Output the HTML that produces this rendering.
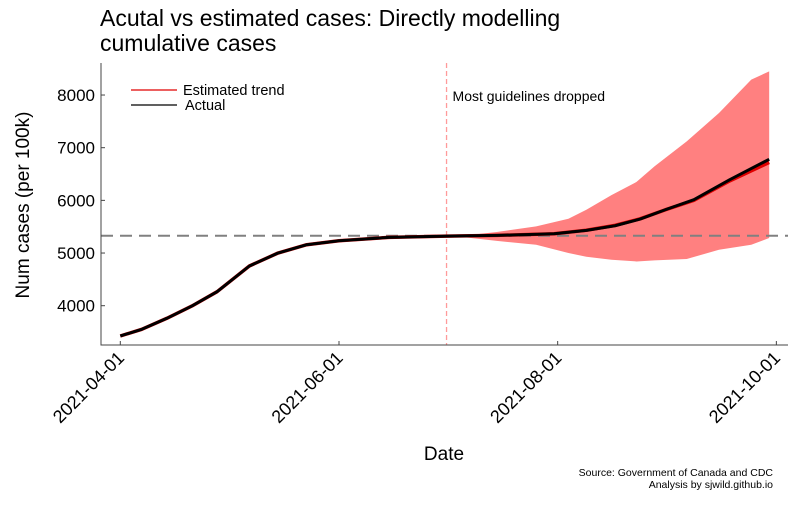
<!DOCTYPE html>
<html><head><meta charset="utf-8"><style>
body{margin:0;background:#fff}
text{font-family:"Liberation Sans","DejaVu Sans",sans-serif}
</style></head><body>
<svg id="chart" width="800" height="500" viewBox="0 0 800 500">
<text x="100" y="26" font-size="23" fill="#000"><tspan x="100">Acutal vs estimated cases: Directly modelling</tspan><tspan x="100" dy="25">cumulative cases</tspan></text>
<g id="plot"></g>
<text transform="translate(29,205) rotate(-90)" text-anchor="middle" font-size="19">Num cases (per 100k)</text>
<text x="444" y="460" text-anchor="middle" font-size="19">Date</text>
<text x="773" y="476" text-anchor="end" font-size="10.5">Source: Government of Canada and CDC</text>
<text x="773" y="488" text-anchor="end" font-size="10.5">Analysis by sjwild.github.io</text>
</svg>
<script>
const actualDays=[0,6,13,20,27,36,44,52,61,75,91,105,121,130,138,145,152,160,170,181];
const actualVals=[3425,3552,3761,3995,4266,4754,5000,5158,5234,5297,5320,5335,5366,5430,5518,5645,5822,6012,6392,6780];
const estVals=[3425,3552,3761,3995,4266,4754,5000,5158,5234,5297,5320,5335,5366,5432,5525,5650,5820,6000,6370,6720];
const bandDays=[96,105,116,125,130,137,144,149,158,167,176,181];
const bandUpper=[5330,5400,5506,5650,5822,6100,6350,6646,7120,7658,8292,8450];
const bandLower=[5300,5230,5158,5000,4930,4873,4840,4860,4886,5063,5158,5285];
const yTicks=[4000,5000,6000,7000,8000];
const xTickDays=[0,61,122,183];
const xTickLabels=["2021-04-01","2021-06-01","2021-08-01","2021-10-01"];
const refLevel=5328;
const eventDay=91;
const eventLabel="Most guidelines dropped";

const NS="http://www.w3.org/2000/svg";
const X0=101,X1=788,Y0=63,Y1=345;
const xs=d=>120.3+d*3.585;
const ys=v=>305.7-(v-4000)*0.05267;
const g=document.getElementById('plot');
function mk(t,a){const e=document.createElementNS(NS,t);for(const k in a)e.setAttribute(k,a[k]);g.appendChild(e);return e;}

let d="M"+bandDays.map((x,i)=>xs(x)+","+ys(bandUpper[i])).join("L");
for(let i=bandDays.length-1;i>=0;i--)d+="L"+xs(bandDays[i])+","+ys(bandLower[i]);
const band=mk('path',{d:d+"Z",fill:"#ff8080"});



const hl=mk('line',{x1:X0,x2:X1,y1:ys(refLevel),y2:ys(refLevel),stroke:"#808080","stroke-width":2,"stroke-dasharray":"12 7"});


const vl=mk('line',{x1:xs(eventDay),x2:xs(eventDay),y1:Y0,y2:Y1,stroke:"#ff9a9a","stroke-width":1.3,"stroke-dasharray":"5 3"});


const et=mk('text',{x:xs(eventDay)+6,y:101,"font-size":14});
et.textContent=eventLabel;



const est=mk('polyline',{points:actualDays.map((x,i)=>xs(x)+","+ys(estVals[i])).join(" "),fill:"none",stroke:"#e00000","stroke-width":3.5,"stroke-linejoin":"round"});


const act=mk('polyline',{points:actualDays.map((x,i)=>xs(x)+","+ys(actualVals[i])).join(" "),fill:"none",stroke:"#000","stroke-width":3,"stroke-linejoin":"round"});



const ax=mk('path',{d:`M${X0},${Y0}V${Y1}H${X1}`,fill:"none",stroke:"#444","stroke-width":1});


yTicks.forEach(v=>{
  const t=mk('line',{x1:X0,x2:X0+4,y1:ys(v),y2:ys(v),stroke:"#444"});
  
  
  const l=mk('text',{x:X0-6,y:ys(v)+6,"text-anchor":"end","font-size":17});
  l.textContent=v;
  
  
});
xTickDays.forEach((dd,i)=>{
  const x=xs(dd);
  const t=mk('line',{x1:x,x2:x,y1:Y1,y2:Y1-4,stroke:"#444"});
  
  
  const l=mk('text',{x:x+5,y:Y1+14,"text-anchor":"end","font-size":18,transform:`rotate(-45 ${x+5} ${Y1+14})`});
  l.textContent=xTickLabels[i];
  
  
});
const lg=[["Estimated trend","#e00000",90],["Actual","#000",105]];
lg.forEach(([n,c,y],i)=>{
  const ln=mk('line',{x1:131,x2:177,y1:y,y2:y,stroke:c,"stroke-width":1.3});
  
  
  const t=mk('text',{x:i?185:183,y:y+5,"font-size":14.5});
  t.textContent=n;
  
  
});
</script>
</body></html>
